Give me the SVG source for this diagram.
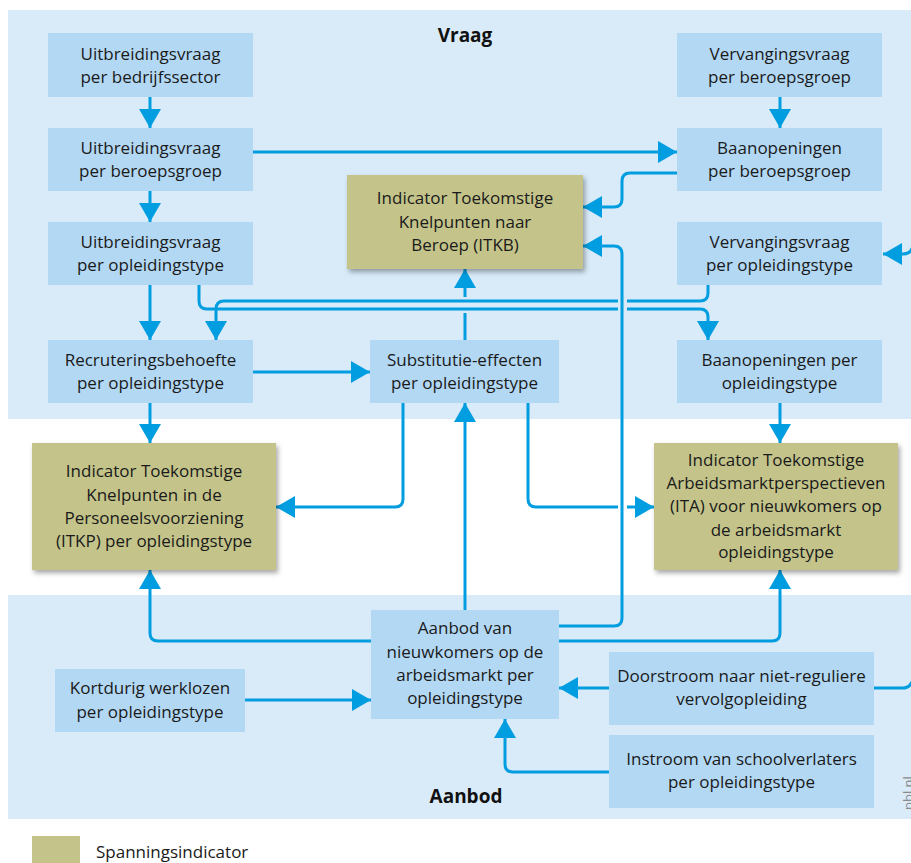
<svg xmlns="http://www.w3.org/2000/svg" width="911" height="863" viewBox="0 0 911 863">
<defs>
<style>
.panel{fill:#d9ebf9}
.box{fill:#b3d8f4}
.ind{fill:#c4c48a;filter:url(#sh)}
.t{font-family:"Open Sans","Noto Sans","Liberation Sans",sans-serif;font-size:17px;fill:#1a1a1a;text-anchor:middle}
.h{font-family:"Open Sans","Noto Sans","Liberation Sans",sans-serif;font-size:19px;font-weight:bold;fill:#111;text-anchor:middle}
.c{fill:none;stroke:#009ee0;stroke-width:3}
.a{marker-end:url(#ar)}
</style>
<marker id="ar" viewBox="0 0 19 22" refX="19" refY="11" markerWidth="19" markerHeight="22" markerUnits="userSpaceOnUse" orient="auto">
<path d="M0,0 L19,11 L0,22 Z" fill="#009ee0"/>
</marker>
<filter id="sh" x="-10%" y="-10%" width="125%" height="130%">
<feDropShadow dx="2" dy="3" stdDeviation="2.5" flood-color="#000" flood-opacity="0.35"/>
</filter>
</defs>
<rect width="911" height="863" fill="#fff"/>
<rect class="panel" x="8" y="10" width="903" height="409"/>
<rect class="panel" x="8" y="595" width="903" height="224"/>
<text class="h" x="465" y="42">Vraag</text>
<text class="h" x="466" y="803">Aanbod</text>

<g id="connectors">
<path class="c a" d="M150,97 V128"/>
<path class="c a" d="M150,191 V222"/>
<path class="c a" d="M150,285 V340"/>
<path class="c a" d="M253,152 H677"/>
<path class="c a" d="M780,97 V128"/>
<path class="c a" d="M677,173 H630 Q622,173 622,181 V199 Q622,207 614,207 H583"/>
<path class="c a" d="M559,626 H614 Q622,626 622,618 V254 Q622,246 614,246 H583"/>
<path class="c a" d="M199,285 V301 Q199,309 207,309 H618 M627,309 H700 Q708,309 708,317 V340"/>
<path class="c a" d="M708,285 V293 Q708,301 700,301 H627 M618,301 H224 Q216,301 216,309 V340"/>
<path class="c a" d="M465,340 V313 M465,297 V269"/>
<path class="c a" d="M253,372 H370"/>
<path class="c a" d="M150,403 V443"/>
<path class="c a" d="M403,403 V499 Q403,507 395,507 H276"/>
<path class="c a" d="M528,403 V499 Q528,507 536,507 H618 M627,507 H654"/>
<path class="c a" d="M780,403 V443"/>
<path class="c a" d="M465,610 V403"/>
<path class="c a" d="M371,641 H158 Q150,641 150,633 V570"/>
<path class="c a" d="M559,641 H772 Q780,641 780,633 V570"/>
<path class="c a" d="M245,700 H371"/>
<path class="c a" d="M609,688 H559"/>
<path class="c a" d="M609,772 H513 Q505,772 505,764 V719"/>
<path class="c" d="M874,688 H903 Q909,688 912,682"/>
<path class="c a" d="M913,246 Q911,254 903,254 H883"/>
</g>

<g id="n1"><rect class="box" x="48" y="33" width="205" height="64"/><text class="t" x="150.5" y="60">Uitbreidingsvraag</text><text class="t" x="150.5" y="83">per bedrijfssector</text></g>
<g id="n2"><rect class="box" x="48" y="128" width="205" height="63"/><text class="t" x="150.5" y="154">Uitbreidingsvraag</text><text class="t" x="150.5" y="177">per beroepsgroep</text></g>
<g id="n3"><rect class="box" x="48" y="222" width="205" height="63"/><text class="t" x="150.5" y="248">Uitbreidingsvraag</text><text class="t" x="150.5" y="271">per opleidingstype</text></g>
<g id="n4"><rect class="box" x="48" y="340" width="205" height="63"/><text class="t" x="150.5" y="366">Recruteringsbehoefte</text><text class="t" x="150.5" y="389">per opleidingstype</text></g>
<g id="n5"><rect class="box" x="677" y="33" width="205" height="64"/><text class="t" x="779.5" y="60">Vervangingsvraag</text><text class="t" x="779.5" y="83">per beroepsgroep</text></g>
<g id="n6"><rect class="box" x="677" y="128" width="205" height="63"/><text class="t" x="779.5" y="154">Baanopeningen</text><text class="t" x="779.5" y="177">per beroepsgroep</text></g>
<g id="n7"><rect class="box" x="677" y="222" width="205" height="63"/><text class="t" x="779.5" y="248">Vervangingsvraag</text><text class="t" x="779.5" y="271">per opleidingstype</text></g>
<g id="n8"><rect class="box" x="677" y="340" width="205" height="63"/><text class="t" x="779.5" y="366">Baanopeningen per</text><text class="t" x="779.5" y="389">opleidingstype</text></g>
<g id="n9"><rect class="box" x="370" y="340" width="189" height="63"/><text class="t" x="464.5" y="366">Substitutie-effecten</text><text class="t" x="464.5" y="389">per opleidingstype</text></g>
<g id="n10"><rect class="ind" x="347" y="175" width="236" height="94"/><text class="t" x="465" y="204">Indicator Toekomstige</text><text class="t" x="465" y="228">Knelpunten naar</text><text class="t" x="465" y="251">Beroep (ITKB)</text></g>
<g id="n11"><rect class="ind" x="32" y="443" width="244" height="127"/><text class="t" x="154" y="477">Indicator Toekomstige</text><text class="t" x="154" y="501">Knelpunten in de</text><text class="t" x="154" y="524">Personeelsvoorziening</text><text class="t" x="154" y="547">(ITKP) per opleidingstype</text></g>
<g id="n12"><rect class="ind" x="654" y="443" width="244" height="127"/><text class="t" x="776" y="466">Indicator Toekomstige</text><text class="t" x="776" y="489">Arbeidsmarktperspectieven</text><text class="t" x="776" y="512">(ITA) voor nieuwkomers op</text><text class="t" x="776" y="536">de arbeidsmarkt</text><text class="t" x="776" y="558">opleidingstype</text></g>
<g id="n13"><rect class="box" x="371" y="610" width="188" height="109"/><text class="t" x="465" y="634">Aanbod van</text><text class="t" x="465" y="658">nieuwkomers op de</text><text class="t" x="465" y="681">arbeidsmarkt per</text><text class="t" x="465" y="704">opleidingstype</text></g>
<g id="n14"><rect class="box" x="55" y="669" width="190" height="63"/><text class="t" x="150" y="694">Kortdurig werklozen</text><text class="t" x="150" y="718">per opleidingstype</text></g>
<g id="n15"><rect class="box" x="609" y="652" width="265" height="73"/><text class="t" x="741.5" y="682">Doorstroom naar niet-reguliere</text><text class="t" x="741.5" y="705">vervolgopleiding</text></g>
<g id="n16"><rect class="box" x="609" y="735" width="265" height="73"/><text class="t" x="741.5" y="765">Instroom van schoolverlaters</text><text class="t" x="741.5" y="788">per opleidingstype</text></g>

<text x="913" y="810" transform="rotate(-90 913 810)" style="font-family:'Open Sans','Liberation Sans',sans-serif;font-size:13px;fill:#8a8a8a">pbl.nl</text>

<g id="legend"><rect x="32" y="836" width="48" height="30" fill="#c4c48a"/><text x="96" y="858" style="font-family:'Open Sans','Noto Sans','Liberation Sans',sans-serif;font-size:17px;fill:#1a1a1a">Spanningsindicator</text></g>
</svg>
